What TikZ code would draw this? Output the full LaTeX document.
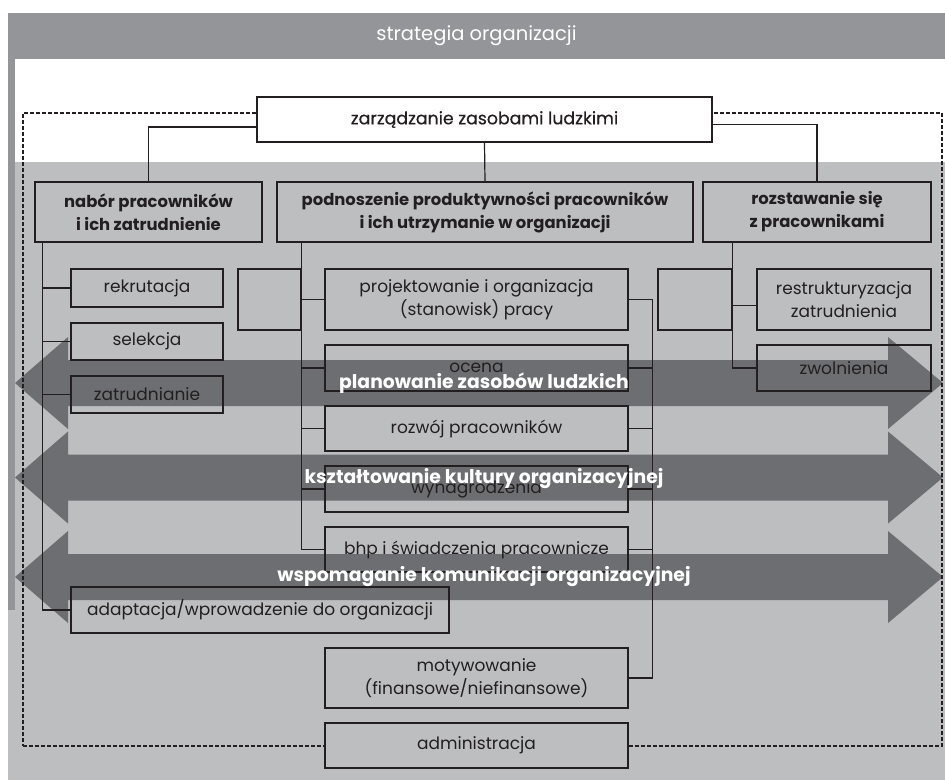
\documentclass[tikz,border=0pt]{standalone}
\usepackage{fontspec}
\setmainfont{Poppins}
\newfontfamily\semiboldface[FakeBold=0.4]{Poppins}
\usetikzlibrary{fit}

\definecolor{bandgrey}{HTML}{939598}
\definecolor{fieldgrey}{HTML}{BCBEC0}
\definecolor{arrowgrey}{HTML}{6D6E71}
\definecolor{ink}{HTML}{231F20}

\tikzset{
  box/.style={draw=ink, line width=1.2pt, inner sep=0pt},
  boxtext/.style={inner sep=0pt, align=center, text=ink,
    font=\fontsize{17}{23.5}\selectfont},
  cattext/.style={boxtext, font=\fontsize{16.4}{23}\selectfont\bfseries},
  link/.style={draw=ink, line width=1.2pt},
  frame/.style={draw=ink, line width=2pt, dash pattern=on 4pt off 2pt, inner sep=0pt},
  bandlabel/.style={text=white, inner sep=0pt, font=\fontsize{18.8}{20}\selectfont\bfseries},
}

% double-headed horizontal band arrow centred on height #1
\newcommand\bandarrow[1]{%
  \fill[arrowgrey] (15,#1) -- (68,#1-46) -- (68,#1-23) -- (888,#1-23) -- (888,#1-46)
    -- (943,#1) -- (888,#1+46) -- (888,#1+23) -- (68,#1+23) -- (68,#1+46) -- cycle;}

\begin{document}
\begin{tikzpicture}[x=1pt,y=-1pt]
\useasboundingbox (0,0) rectangle (945,780);

% background field, strategy band and side bar
\fill[fieldgrey] (8,162) rectangle (945,780);
\node[fit={(8,13) (945,59)}, fill=bandgrey, inner sep=0pt] (strategy) {};
\node[inner sep=0pt, text=white, font=\fontsize{19.5}{20}\selectfont]
  (strategyT) at (strategy.center) {strategia organizacji};
\fill[bandgrey] (8,59) rectangle (15,610);

% cross-cutting functions
\bandarrow{383}
\bandarrow{477.5}
\bandarrow{577}

% dashed frame of HRM
\node[frame, fit={(23,113) (942,746)}] (hrm) {};

% main box
\node[box, fill=white, fit={(257,97) (712,142)}] (top) {};
\node[boxtext, font=\fontsize{17.3}{20}\selectfont\semiboldface]
  (topT) at (top.center) {zarządzanie zasobami ludzkimi};

% three areas
\node[box, fit={(35,182) (262,242)}] (hire) {};
\node[box, fit={(277,182) (693,242)}] (keep) {};
\node[box, fit={(703,182) (931,242)}] (part) {};
\node[cattext] (hireT) at (hire.center) {nabór pracowników\\i ich zatrudnienie};
\node[cattext] (keepT) at (keep.center) {podnoszenie produktywności pracowników\\i ich utrzymanie w organizacji};
\node[cattext] (partT) at (part.center) {rozstawanie się\\z pracownikami};

% hiring
\node[box, fit={(71,269) (223,307)}] (recruit) {};
\node[box, fit={(71,323) (223,360)}] (select) {};
\node[box, fit={(71,376) (223,413)}] (employ) {};
\node[box, fit={(71,587) (449,633)}] (adapt) {};
\node[boxtext] (recruitT) at (recruit.center) {rekrutacja};
\node[boxtext] (selectT) at (select.center) {selekcja};
\node[boxtext] (employT) at (employ.center) {zatrudnianie};
\node[boxtext] (adaptT) at (adapt.center) {adaptacja/wprowadzenie do organizacji};

% productivity and retention
\node[box, fit={(238,269) (301,330)}] (blankL) {};
\node[box, fit={(325,269) (628,330)}] (design) {};
\node[box, fit={(325,345) (628,391)}] (appraise) {};
\node[box, fit={(325,406) (628,451)}] (develop) {};
\node[box, fit={(325,466) (628,512)}] (pay) {};
\node[box, fit={(325,527) (628,572)}] (safety) {};
\node[box, fit={(325,648) (628,708)}] (motiv) {};
\node[box, fill=fieldgrey, fit={(325,723) (628,768)}] (admin) {};
\node[boxtext] (designT) at (design.center) {projektowanie i organizacja\\(stanowisk) pracy};
\node[boxtext] (appraiseT) at (appraise.center) {ocena};
\node[boxtext] (developT) at (develop.center) {rozwój pracowników};
\node[boxtext] (payT) at (pay.center) {wynagrodzenia};
\node[boxtext] (safetyT) at (safety.center) {bhp i świadczenia pracownicze};
\node[boxtext] (motivT) at (motiv.center) {motywowanie\\(finansowe/niefinansowe)};
\node[boxtext] (adminT) at (admin.center) {administracja};

% parting
\node[box, fit={(658,269) (732,330)}] (blankR) {};
\node[box, fit={(757,269) (931,330)}] (restruct) {};
\node[box, fit={(757,345) (931,391)}] (dismiss) {};
\node[boxtext] (restructT) at (restruct.center) {restrukturyzacja\\zatrudnienia};
\node[boxtext] (dismissT) at (dismiss.center) {zwolnienia};

% top-level connectors
\draw[link] ([yshift=-7.5pt]top.west) -| (hire.north);
\draw[link] (top.south) -- (keep.north);
\draw[link] ([yshift=-5pt]top.east) -| (part.north);

% hiring spine
\coordinate (hspine) at ([xshift=8pt]hire.south west);
\draw[link] (hspine) |- (adapt.west);
\foreach \b in {recruit,select,employ}
  \draw[link] (hspine |- \b.west) -- (\b.west);

% retention spines
\coordinate (kspine) at (blankL.east |- keep.south);
\draw[link] (kspine) |- (safety.west);
\foreach \b in {design,appraise,develop,pay}
  \draw[link] (kspine |- \b.west) -- (\b.west);
\coordinate (kright) at ([xshift=24pt]design.east);
\draw[link] (design.east) -- (kright) |- (motiv.east);
\foreach \b in {appraise,develop,pay,safety}
  \draw[link] (\b.east) -- (kright |- \b.east);

% parting spine
\coordinate (pspine) at (blankR.east |- part.south);
\draw[link] (pspine) |- (dismiss.west);
\coordinate (rtick) at ([yshift=-6pt]restruct.west);
\draw[link] (pspine |- rtick) -- (rtick);

% labels of the band arrows
\node[bandlabel, anchor=base] (plan) at (484,388) {planowanie zasobów ludzkich};
\node[bandlabel, anchor=base] (culture) at (484,483) {kształtowanie kultury organizacyjnej};
\node[bandlabel, anchor=base] (comm) at (484,581) {wspomaganie komunikacji organizacyjnej};
\end{tikzpicture}
\end{document}
